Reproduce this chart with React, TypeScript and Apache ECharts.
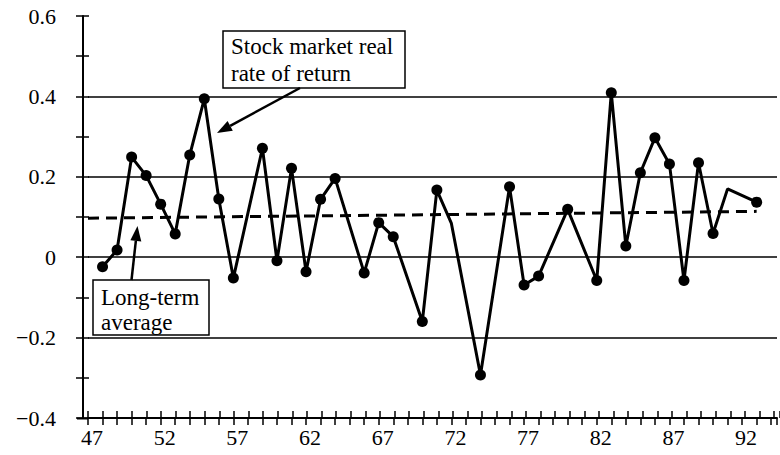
import React, { useEffect, useRef } from "react";
import * as echarts from "echarts";

// Years (19xx) and stock market real rate of return
const years = [48, 49, 50, 51, 52, 53, 54, 55, 56, 57, 59, 60, 61, 62, 63, 64, 66, 67, 68, 70, 71, 72, 74, 76, 77, 78, 80, 82, 83, 84, 85, 86, 87, 88, 89, 90, 91, 93];
const realReturns = [-0.024, 0.018, 0.249, 0.203, 0.132, 0.058, 0.254, 0.394, 0.145, -0.052, 0.271, -0.009, 0.221, -0.036, 0.144, 0.196, -0.039, 0.086, 0.051, -0.16, 0.167, 0.084, -0.293, 0.175, -0.069, -0.047, 0.119, -0.058, 0.409, 0.028, 0.21, 0.297, 0.232, -0.058, 0.235, 0.059, 0.17, 0.137];
const unmarkedYears = [72, 91];

// Long-term average (dashed)
const averageYears = [47, 93];
const averageValues = [0.097, 0.114];

// Axis labels and gridlines
const xLabelYears = [47, 52, 57, 62, 67, 72, 77, 82, 87, 92];
const yLabelValues = [-0.4, -0.2, 0, 0.2, 0.4, 0.6];
const gridlineValues = [-0.2, 0, 0.2, 0.4];

const FONT = "Liberation Serif, Times New Roman, DejaVu Serif, serif";

function arrow(x1: number, y1: number, x2: number, y2: number) {
  const dx = x2 - x1;
  const dy = y2 - y1;
  const L = Math.hypot(dx, dy);
  const ux = dx / L;
  const uy = dy / L;
  const hl = 15;
  const hw = 5.5;
  const bx = x2 - ux * hl;
  const by = y2 - uy * hl;
  return [
    { type: "line", z: 100, shape: { x1, y1, x2: bx, y2: by }, style: { stroke: "#000", lineWidth: 2.5 } },
    {
      type: "polygon",
      z: 100,
      shape: { points: [[x2, y2], [bx - uy * hw, by + ux * hw], [bx + uy * hw, by - ux * hw]] },
      style: { fill: "#000" },
    },
  ];
}

export default function App() {
  const ref = useRef<HTMLDivElement>(null);

  useEffect(() => {
    if (!ref.current) return;
    const chart = echarts.init(ref.current, undefined, { renderer: "svg" });

    const gridRect = { left: 88, top: 16, right: 0, bottom: 37 };
    const xMin = 47;
    const xMax = 94.4;

    const xFormatter = (v: number) => {
      const r = Math.round(v);
      if (Math.abs(v - r) > 1e-6) return "";
      return xLabelYears.includes(r) ? String(r) : "";
    };
    const yFormatter = (v: number) => {
      const r = Math.round(v * 10) / 10;
      if (!yLabelValues.some((y) => Math.abs(y - r) < 1e-9)) return "";
      if (r === 0) return "0";
      return (r < 0 ? "\u2212" : "") + Math.abs(r).toFixed(1);
    };

    const seriesData = years.map((y, i) =>
      unmarkedYears.includes(y)
        ? { value: [y, realReturns[i]], symbol: "none" }
        : { value: [y, realReturns[i]] }
    );

    chart.setOption({
      animation: false,
      backgroundColor: "#fff",
      textStyle: { fontFamily: FONT },
      grid: [{ ...gridRect }, { ...gridRect }],
      xAxis: [
        {
          type: "value",
          gridIndex: 0,
          min: xMin,
          max: xMax,
          interval: 1,
          axisLine: { show: true, onZero: false, lineStyle: { color: "#000", width: 2 } },
          axisTick: { show: true, inside: false, length: 7, lineStyle: { color: "#000", width: 1.5 } },
          axisLabel: {
            formatter: xFormatter,
            fontFamily: FONT,
            fontSize: 22,
            color: "#000",
            margin: 8,
            padding: [0, 0, 0, 8],
          },
          splitLine: { show: false },
        },
        {
          type: "value",
          gridIndex: 1,
          min: xMin,
          max: xMax,
          interval: 1,
          axisLine: { show: false, onZero: false },
          axisTick: { show: true, inside: true, length: 7, lineStyle: { color: "#000", width: 1.5 } },
          axisLabel: { show: false },
          splitLine: { show: false },
        },
      ],
      yAxis: [
        {
          type: "value",
          gridIndex: 0,
          min: -0.4,
          max: 0.6,
          interval: 0.1,
          offset: 5,
          axisLine: { show: true, onZero: false, lineStyle: { color: "#000", width: 2 } },
          axisTick: { show: true, inside: false, length: 7, lineStyle: { color: "#000", width: 1.5 } },
          axisLabel: {
            formatter: yFormatter,
            fontFamily: FONT,
            fontSize: 22,
            color: "#000",
            margin: 27,
          },
          splitLine: { show: false },
        },
        {
          type: "value",
          gridIndex: 1,
          min: -0.4,
          max: 0.6,
          interval: 0.1,
          offset: 5,
          axisLine: { show: false, onZero: false },
          axisTick: { show: true, inside: true, length: 6, lineStyle: { color: "#000", width: 1.5 } },
          axisLabel: { show: false },
          splitLine: { show: false },
        },
      ],
      series: [
        {
          name: "Stock market real rate of return",
          type: "line",
          xAxisIndex: 0,
          yAxisIndex: 0,
          data: seriesData,
          symbol: "circle",
          symbolSize: 11,
          lineStyle: { color: "#000", width: 3 },
          itemStyle: { color: "#000" },
          z: 5,
          markLine: {
            silent: true,
            symbol: "none",
            label: { show: false },
            lineStyle: { color: "#000", width: 1.6, type: "solid" },
            data: gridlineValues.map((v) => ({ yAxis: v })),
            z: 1,
          },
        },
        {
          name: "Long-term average",
          type: "line",
          xAxisIndex: 0,
          yAxisIndex: 0,
          data: averageYears.map((y, i) => [y, averageValues[i]]),
          symbol: "none",
          lineStyle: { color: "#000", width: 3, type: [11, 7] },
          z: 4,
        },
      ],
      graphic: [
        {
          type: "line",
          z: 100,
          shape: { x1: 77, y1: 418.5, x2: 88, y2: 418.5 },
          style: { stroke: "#000", lineWidth: 2 },
        },
        {
          type: "rect",
          z: 100,
          shape: { x: 223, y: 31, width: 182, height: 57 },
          style: { fill: "#fff", stroke: "#000", lineWidth: 1.5 },
        },
        {
          type: "text",
          z: 101,
          x: 231,
          y: 32.5,
          style: {
            text: "Stock market real\nrate of return",
            font: "23px Liberation Serif, Times New Roman, DejaVu Serif, serif",
            fill: "#000",
            lineHeight: 27,
            verticalAlign: "top",
            align: "left",
          },
        },
        ...arrow(300, 88, 217, 133),
        {
          type: "rect",
          z: 100,
          shape: { x: 93, y: 280, width: 116, height: 55 },
          style: { fill: "#fff", stroke: "#000", lineWidth: 1.5 },
        },
        {
          type: "text",
          z: 101,
          x: 101,
          y: 284.5,
          style: {
            text: "Long-term\naverage",
            font: "23px Liberation Serif, Times New Roman, DejaVu Serif, serif",
            fill: "#000",
            lineHeight: 25,
            verticalAlign: "top",
            align: "left",
          },
        },
        ...arrow(131.5, 280, 137.5, 226),
      ],
    });

    return () => {
      chart.dispose();
    };
  }, []);

  return (
    <div
      ref={ref}
      style={{ position: "fixed", left: 0, top: 0, width: 780, height: 455, background: "#fff" }}
    />
  );
}
